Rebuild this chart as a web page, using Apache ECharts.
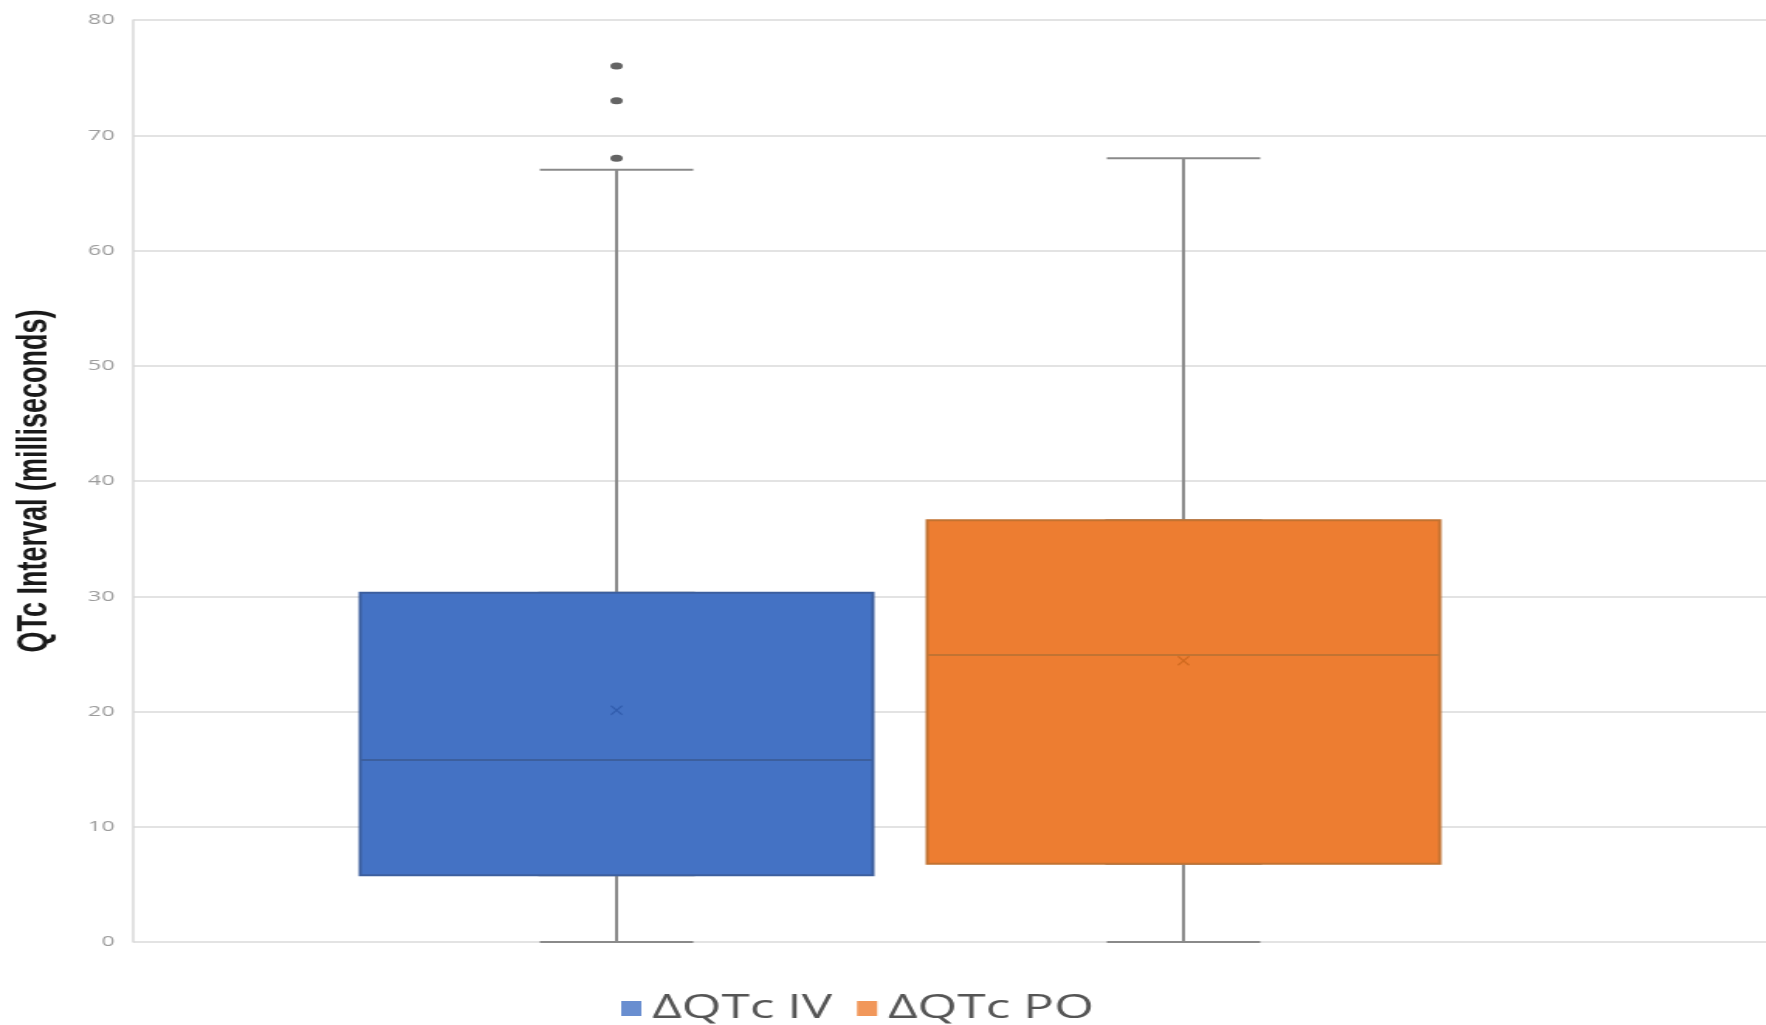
<!DOCTYPE html>
<html>
<head>
<meta charset="utf-8">
<script src="https://cdn.jsdelivr.net/npm/echarts@6/dist/echarts.min.js"></script>
<style>
  html, body { margin: 0; padding: 0; background: #ffffff; overflow: hidden; }
  /* the figure is laid out narrow and widened horizontally */
  #main { width: 1140px; height: 1025px; transform: scaleX(1.54912); transform-origin: 0 0; }
</style>
</head>
<body>
<div id="main"></div>
<script>
// ΔQTc change, IV vs PO (ms)
const categories = ['ΔQTc IV', 'ΔQTc PO'];
const lowWhisker = [0, 0];
const q1 = [5.8, 6.8];
const median = [15.8, 24.9];
const q3 = [30.3, 36.6];
const highWhisker = [67, 68];
const means = [20.1, 24.4];
const outliersIV = [76, 73, 68];

const yMin = 0, yMax = 80, yStep = 10;

const fills = ['#4472C4', '#ED7D31'];
const edges = ['#3c5f9e', '#c27332'];
const meanColors = ['#2d57a8', '#c8651c'];

const chart = echarts.init(document.getElementById('main'));

// whiskers: full five-number summary, narrow box hidden beneath the coloured box
const whiskerData = categories.map((c, i) =>
  [lowWhisker[i], q1[i], median[i], q3[i], highWhisker[i]]);
// coloured interquartile box with median line
const boxData = categories.map((c, i) => ({
  value: [q1[i], q1[i], median[i], q3[i], q3[i]],
  itemStyle: { color: fills[i], borderColor: edges[i] }
}));

const xMark = 'path://M1,0 L5,4 L9,0 L10,1 L6,5 L10,9 L9,10 L5,6 L1,10 L0,9 L4,5 L0,1 Z';

const option = {
  backgroundColor: '#ffffff',
  animation: false,
  grid: [
    { left: 86, right: 0, top: 20, bottom: 83 },
    { left: 215, width: 732, top: 20, bottom: 83 }
  ],
  legend: {
    data: categories.map((c, i) => ({ name: c, itemStyle: { color: fills[i] } })),
    icon: 'rect',
    itemWidth: 13,
    itemHeight: 15,
    itemGap: 16,
    left: 396,
    top: 987,
    selectedMode: false,
    textStyle: { fontFamily: 'Open Sans', fontSize: 33, color: '#555555', padding: [0, 0, 0, 2] }
  },
  xAxis: [
    { gridIndex: 0, type: 'category', data: [''], show: false },
    { gridIndex: 1, type: 'category', data: categories, show: false },
    { gridIndex: 1, type: 'category', data: categories, show: false }
  ],
  yAxis: [
    {
      gridIndex: 0, type: 'value', min: yMin, max: yMax, interval: yStep,
      name: 'QTc Interval (milliseconds)',
      nameLocation: 'middle', nameRotate: 90, nameGap: 50,
      nameTextStyle: { fontFamily: 'Liberation Sans', fontWeight: 'bold', fontSize: 27, color: '#1a1a1a' },
      axisLine: { show: true, lineStyle: { color: '#d9d9d9', width: 1.5 } },
      axisTick: { show: false },
      axisLabel: { margin: 12, fontFamily: 'Open Sans', fontSize: 15, color: '#9c9c9c' },
      splitLine: { show: true, lineStyle: { color: '#e3e3e3', width: 2 } }
    },
    { gridIndex: 1, type: 'value', min: yMin, max: yMax, interval: yStep, show: false, splitLine: { show: false } }
  ],
  series: [
    {
      name: 'whiskers', type: 'boxplot', xAxisIndex: 1, yAxisIndex: 1,
      boxWidth: [99, 99], z: 2,
      itemStyle: { color: '#ffffff', borderColor: '#8a8a8a', borderWidth: 2 },
      data: whiskerData
    },
    {
      name: 'box', type: 'boxplot', xAxisIndex: 2, yAxisIndex: 1,
      boxWidth: [331, 331], z: 3,
      itemStyle: { borderWidth: 2 },
      data: boxData
    },
    ...categories.map((c, i) => ({
      name: c, type: 'scatter', xAxisIndex: 1, yAxisIndex: 1, z: 5,
      symbol: xMark, symbolSize: [8, 10],
      itemStyle: { color: meanColors[i] },
      data: [[i, means[i]]]
    })),
    {
      name: 'outliers', type: 'scatter', xAxisIndex: 1, yAxisIndex: 1, z: 5,
      symbol: 'circle', symbolSize: [8, 7],
      itemStyle: { color: '#3d3d3d' },
      data: outliersIV.map(v => [0, v])
    }
  ]
};

chart.setOption(option);
</script>
</body>
</html>
